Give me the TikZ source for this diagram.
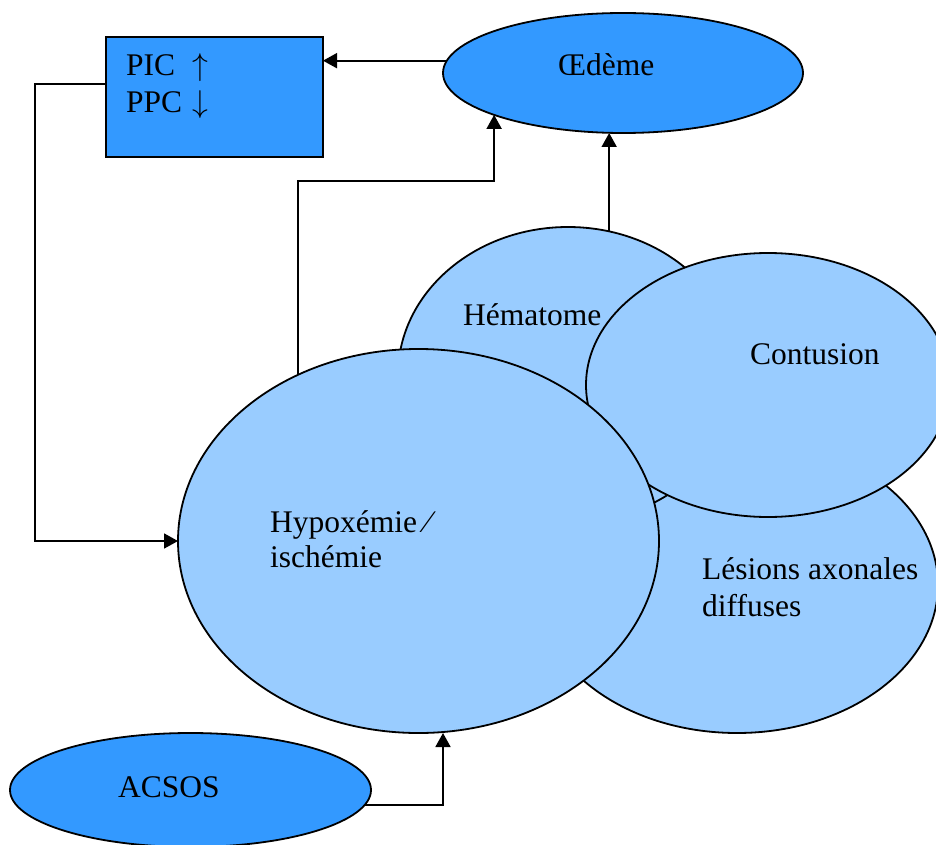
\documentclass[tikz,border=0pt]{standalone}
\usepackage{fontspec}
\setmainfont{Liberation Serif}
\usetikzlibrary{shapes.geometric,arrows.meta,calc}
\definecolor{darkb}{RGB}{51,153,255}
\definecolor{lightb}{RGB}{153,204,255}
\begin{document}
\begin{tikzpicture}[x=1pt,y=-1pt,
  shapeline/.style={draw=black,line width=1.8pt},
  darkfill/.style={shapeline,fill=darkb},
  lightfill/.style={shapeline,fill=lightb},
  oval/.style={ellipse,inner sep=0pt,outer sep=0pt},
  conn/.style={line width=1.8pt,-{Triangle[length=14pt,width=15pt]}},
  lbl/.style={anchor=base west,inner sep=0pt,font=\fontsize{31.5}{36}\selectfont}]
\useasboundingbox (0,0) rectangle (936,845);
\clip (0,0) rectangle (936,845);

% shapes (back to front)
\node[darkfill,rectangle,inner sep=0pt,outer sep=0pt,minimum width=217pt,minimum height=120pt] (box) at (214.5,97) {};
\node[oval,darkfill,minimum width=360pt,minimum height=120pt] (oed) at (623,73) {};
\node[oval,lightfill,minimum width=402pt,minimum height=296pt] (les) at (737,585) {};
\node[oval,lightfill,minimum width=340pt,minimum height=296pt] (hem) at (568,375) {};
\node[oval,lightfill,minimum width=364pt,minimum height=264pt] (con) at (768,385) {};
\node[oval,lightfill,minimum width=481pt,minimum height=384pt] (hyp) at (418.5,541) {};
\node[oval,darkfill,minimum width=361pt,minimum height=114pt] (acs) at (190.5,790) {};

% texts
\node[lbl] (tpic) at (126,76) {\makebox[66pt][l]{PIC}\scalebox{1.27}{$\uparrow$}};
\node[lbl] (tppc) at (126,113) {\makebox[66pt][l]{PPC}\scalebox{1.27}{$\downarrow$}};
\node[lbl] (toed) at (558,76) {Œdème};
\node[lbl] (them) at (463,325) {Hématome};
\node[lbl] (tcon) at (750,364) {Contusion};
\node[lbl] (thyp1) at (270,532) {Hypoxémie\kern8pt⁄};
\node[lbl] (thyp2) at (270,567) {ischémie};
\node[lbl] (tles1) at (702,579) {Lésions axonales};
\node[lbl] (tles2) at (702,616) {diffuses};
\node[lbl] (tacs) at (118,797) {ACSOS};

% connectors
\draw[conn] (oed.176.1) -- (oed.176.1 -| box.east);
\draw[conn] ($(box.west)+(0,-13)$) -- ++(-71,0) |- (hyp.west);
\draw[conn] (hyp.126) -- ++(0,-194) -| (oed.-162.7);
\draw[conn] (hem.74.2) -- (hem.74.2 |- oed.south);
\draw[conn] (acs.-5) -| ($(hyp.south)+(24.5,0)$);
\end{tikzpicture}
\end{document}
